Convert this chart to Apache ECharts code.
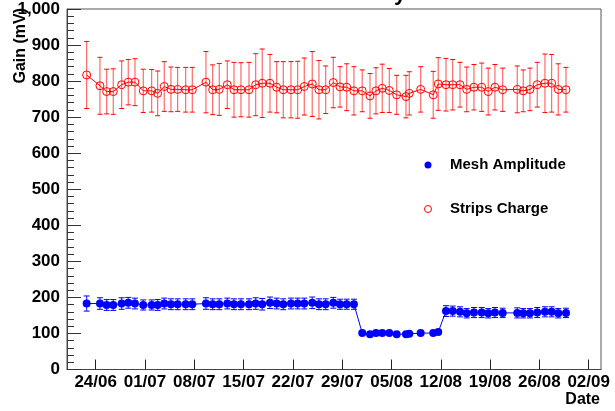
<!DOCTYPE html>
<html><head><meta charset="utf-8">
<script src="https://cdn.jsdelivr.net/npm/echarts@6/dist/echarts.min.js"></script>
<style>html,body{margin:0;padding:0;background:#fff}#c{width:615px;height:411px}</style>
</head><body><div id="c"></div>
<script>
// days since 24/06
const tickDays = [0, 7, 14, 21, 28, 35, 42, 49, 56, 63, 70];
const tickLabels = ['24/06','01/07','08/07','15/07','22/07','29/07','05/08','12/08','19/08','26/08','02/09'];
const dayOffsets = [-1.28,0.61,1.56,2.50,3.69,4.63,5.58,6.76,7.95,8.80,9.74,10.69,11.64,12.78,13.72,15.66,16.61,17.55,18.69,19.64,20.63,21.77,22.72,23.65,24.75,25.70,26.64,27.73,28.68,29.62,30.75,31.70,32.66,33.74,34.69,35.64,36.67,37.85,38.95,39.80,40.69,41.69,42.74,44.06,44.53,46.15,47.93,48.64,49.74,50.69,51.73,52.68,53.71,54.81,55.74,56.69,57.79,59.86,60.71,61.66,62.70,63.79,64.74,65.68,66.78];
const meshAmplitude = [183,183,179,179,183,185,183,179,179,179,183,181,181,181,181,183,181,181,183,181,181,181,183,181,185,183,181,183,183,183,185,181,181,185,181,181,181,101,98,101,101,101,98,98,99,101,101,104,162,162,160,156,158,158,156,158,157,157,156,156,158,160,160,156,157];
const meshError = [21,16,15,15,16,15,15,14,14,15,15,15,15,15,15,16,15,15,15,15,15,15,16,16,16,15,15,15,15,15,16,15,15,15,14,14,14,4,3,4,4,4,3,4,3,4,4,5,15,14,14,13,14,14,13,14,13,14,13,13,14,14,14,13,13];
const stripsCharge = [817,787,771,771,790,797,797,773,773,766,785,777,777,776,776,797,776,777,790,776,776,776,790,794,794,783,776,776,776,785,792,776,776,796,784,783,773,773,759,773,780,774,762,757,766,777,762,792,790,790,790,777,783,783,771,783,776,777,773,777,790,794,794,777,776];
const stripsError = [93,79,62,63,66,63,65,60,59,62,69,62,61,62,62,85,69,72,66,76,75,76,86,95,80,71,78,78,79,79,90,81,66,70,56,65,67,58,62,64,67,61,54,59,60,63,65,73,73,70,62,62,63,67,65,63,60,65,58,59,62,81,80,71,62];

const FONT = 'Liberation Sans';

function errorSeries(vals, errs, capColor, barColor, capHalf) {
  return {
    type: 'custom',
    silent: true,
    z: 2,
    data: dayOffsets.map((d, i) => [d, vals[i] - errs[i], vals[i] + errs[i]]),
    encode: { x: 0, y: [1, 2] },
    renderItem: function (params, api) {
      const x = api.value(0);
      const lo = api.coord([x, api.value(1)]);
      const hi = api.coord([x, api.value(2)]);
      return {
        type: 'group',
        children: [
          { type: 'line', shape: { x1: lo[0], y1: lo[1], x2: hi[0], y2: hi[1] }, style: { stroke: barColor, lineWidth: 1.2 } },
          { type: 'line', shape: { x1: lo[0] - capHalf, y1: lo[1], x2: lo[0] + capHalf, y2: lo[1] }, style: { stroke: capColor, lineWidth: 1 } },
          { type: 'line', shape: { x1: hi[0] - capHalf, y1: hi[1], x2: hi[0] + capHalf, y2: hi[1] }, style: { stroke: capColor, lineWidth: 1 } }
        ]
      };
    }
  };
}

const chart = echarts.init(document.getElementById('c'), null, { renderer: 'canvas' });
chart.setOption({
  animation: false,
  backgroundColor: '#fff',
  grid: { left: 67, right: 14, top: 9, bottom: 41.5, show: true, borderColor: '#555', borderWidth: 1, backgroundColor: 'transparent' },
  xAxis: {
    type: 'value', min: -4.07, max: 71.75,
    axisLine: { show: true, onZero: false, lineStyle: { color: '#444', width: 1 } },
    axisTick: { show: true, inside: true, length: 10, customValues: tickDays, lineStyle: { color: '#222', width: 1 } },
    axisLabel: {
      customValues: tickDays,
      formatter: function (v) { const i = tickDays.indexOf(v); return i >= 0 ? tickLabels[i] : ''; },
      fontFamily: FONT, fontWeight: 'bold', fontSize: 17, color: '#000', margin: 4, showMinLabel: true, showMaxLabel: true
    },
    splitLine: { show: false }
  },
  yAxis: {
    type: 'value', min: 0, max: 1000, interval: 100,
    axisLine: { show: true, onZero: false, lineStyle: { color: '#444', width: 1 } },
    axisTick: { show: true, inside: true, length: 14, lineStyle: { color: '#333', width: 1 } },
    minorTick: { show: true, splitNumber: 5, length: 7, lineStyle: { color: '#333', width: 1 } },
    axisLabel: { fontFamily: FONT, fontWeight: 'bold', fontSize: 17, color: '#000', margin: 7 },
    splitLine: { show: false }
  },
  series: [
    errorSeries(stripsCharge, stripsError, '#ff0000', '#ff6a6a', 2.5),
    errorSeries(meshAmplitude, meshError, '#0000ff', '#3b3bff', 3),
    {
      name: 'Strips Charge', type: 'line', z: 3,
      data: dayOffsets.map((d, i) => [d, stripsCharge[i]]),
      symbol: 'circle', symbolSize: 8,
      itemStyle: { color: 'rgba(255,255,255,0)', borderColor: '#ff0000', borderWidth: 1 },
      lineStyle: { color: '#ff0000', width: 1 }
    },
    {
      name: 'Mesh Amplitude', type: 'line', z: 4,
      data: dayOffsets.map((d, i) => [d, meshAmplitude[i]]),
      symbol: 'circle', symbolSize: 8,
      itemStyle: { color: '#0000ff', borderWidth: 0 },
      lineStyle: { color: '#0000ff', width: 1 }
    }
  ],
  graphic: [
    { type: 'text', x: 400, y: 5, style: { text: 'y', font: 'bold 22px ' + FONT, fill: '#000', align: 'center', verticalAlign: 'bottom' } },
    { type: 'text', x: 21, y: 8, rotation: Math.PI / 2, style: { text: 'Gain (mV)', font: 'bold 16px ' + FONT, fill: '#000', align: 'right', verticalAlign: 'middle' } },
    { type: 'text', x: 600, y: 400, style: { text: 'Date', font: 'bold 16px ' + FONT, fill: '#000', align: 'right', verticalAlign: 'middle' } },
    { type: 'circle', shape: { cx: 428, cy: 165, r: 3.5 }, style: { fill: '#0000ff' } },
    { type: 'text', x: 450, y: 165, style: { text: 'Mesh Amplitude', font: 'bold 15px ' + FONT, fill: '#000', align: 'left', verticalAlign: 'middle' } },
    { type: 'circle', shape: { cx: 428, cy: 209, r: 3.5 }, style: { fill: 'none', stroke: '#ff0000', lineWidth: 1 } },
    { type: 'text', x: 450, y: 209, style: { text: 'Strips Charge', font: 'bold 15px ' + FONT, fill: '#000', align: 'left', verticalAlign: 'middle' } }
  ]
});
</script>
</body></html>
